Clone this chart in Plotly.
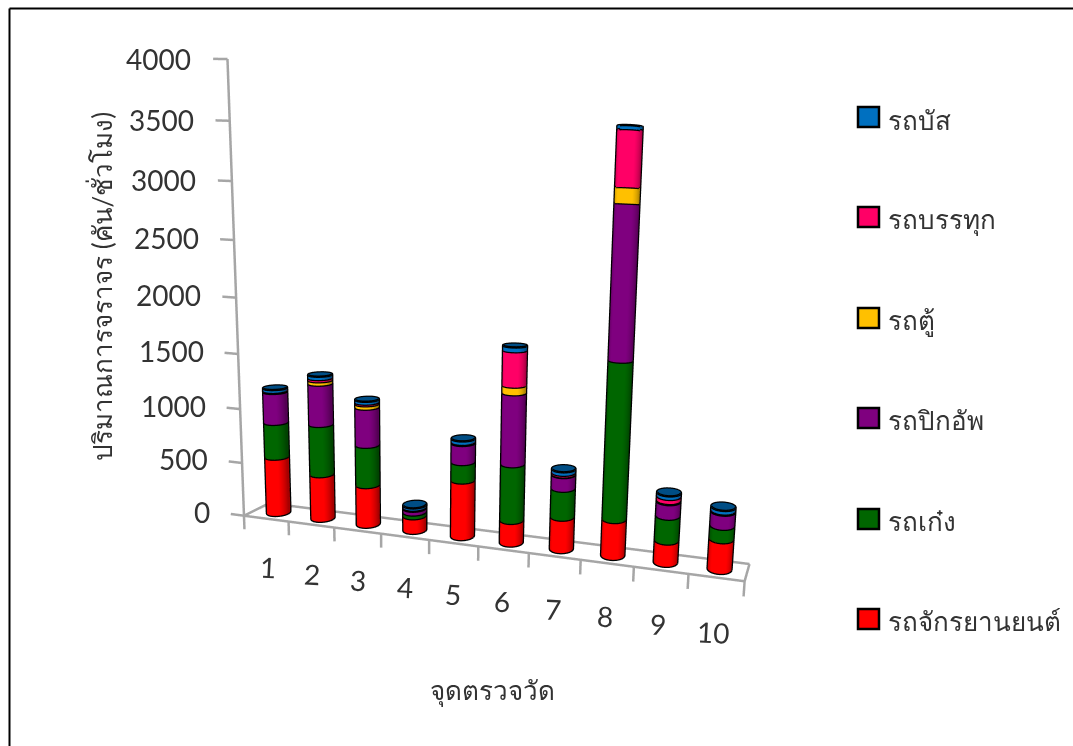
import numpy as np
import plotly.graph_objects as go

W, H = 1073, 746

# Vehicles per hour at each survey point, stacked bottom to top
points = ["1", "2", "3", "4", "5", "6", "7", "8", "9", "10"]
moto = [535, 420, 370, 135, 515, 205, 290, 325, 195, 265]
sedan = [325, 465, 370, 35, 165, 505, 255, 1360, 215, 115]
pickup = [285, 375, 345, 35, 170, 625, 120, 1265, 125, 120]
van = [5, 30, 30, 5, 5, 65, 5, 125, 10, 5]
truck = [5, 20, 15, 5, 5, 300, 15, 440, 35, 5]
bus = [25, 30, 25, 20, 30, 40, 30, 30, 30, 30]
z_ticks = [0, 500, 1000, 1500, 2000, 2500, 3000, 3500, 4000]

series = [("รถจักรยานยนต์", moto, "#FF0000"), ("รถเก๋ง", sedan, "#006600"), ("รถปิกอัพ", pickup, "#7F007F"),
          ("รถตู้", van, "#FFC000"), ("รถบรรทุก", truck, "#FF0066"), ("รถบัส", bus, "#0070C0")]
legend_box_y = [619, 519, 418, 318, 217, 117]
legend_text_y = [621, 521, 420, 320, 220, 120]

# Scene ranges and camera
RX, RY, RZ = (-1.0, 11.0), (-1.0, 2.0), (-500.0, 4500.0)
mid = np.array([sum(RX), sum(RY), sum(RZ)]) / 2
rng = np.array([RX[1]-RX[0], RY[1]-RY[0], RZ[1]-RZ[0]])
eye = np.array([0.2078, -0.5158, 0.0656])
cen = np.array([-0.1320, 0.9978, -0.2145])
asp = np.array([0.4007, 0.0826, 0.3642])
up = (-0.3180, 1.1796, 1.0)
dom_x = [0.1817, 1.0]

# Cylinder cross-section in axis units
RAD_X, RAD_Y = 0.215, 0.28
N = 48
T = np.linspace(0, 2*np.pi, N, endpoint=False)

fig = go.Figure()
LIGHT = dict(ambient=0.65, diffuse=0.45, specular=0, roughness=1, fresnel=0)
lightpos = dict(x=float(eye[0]*1000), y=float(eye[1]*1000), z=float(eye[2]*1000))

base = np.zeros(10)
ol_x, ol_y, ol_z = [], [], []
for name, vals, col in series:
    X, Y, Z, I, J, K = [], [], [], [], [], []
    for b in range(10):
        cx, cy = b+0.5, 0.5
        z0, z1 = base[b], base[b]+vals[b]
        o = len(X)
        X += list(cx+RAD_X*np.cos(T))*2
        Y += list(cy+RAD_Y*np.sin(T))*2
        Z += [z0]*N+[z1]*N
        for i in range(N):
            j = (i+1) % N
            I += [o+i, o+j]; J += [o+j, o+N+j]; K += [o+N+i, o+N+i]
        # Outline rings at both ends of the segment
        for zz in (z0, z1):
            ol_x += list(cx+RAD_X*np.cos(np.append(T, 0)))+[None]
            ol_y += list(cy+RAD_Y*np.sin(np.append(T, 0)))+[None]
            ol_z += [zz]*(N+1)+[None]
        # Vertical silhouette edges, taken where the surface turns away from the eye
        a = asp/rng
        v = (np.array([cx, cy, 0])-mid)/rng*asp-eye
        t = np.arctan2(-v[0]/(a[0]*RAD_X), v[1]/(a[1]*RAD_Y))
        for tt in (t, t+np.pi):
            ol_x += [cx+RAD_X*np.cos(tt)]*2+[None]
            ol_y += [cy+RAD_Y*np.sin(tt)]*2+[None]
            ol_z += [z0, z1, None]
        # Top cap on the last segment of the stack
        if name == "รถบัส":
            o2 = len(X)
            X += list(cx+RAD_X*np.cos(T))+[cx]
            Y += list(cy+RAD_Y*np.sin(T))+[cy]
            Z += [z1]*(N+1)
            for i in range(N):
                I.append(o2+i); J.append(o2+(i+1) % N); K.append(o2+N)
    base = base+np.array(vals)
    fig.add_trace(go.Mesh3d(x=X, y=Y, z=Z, i=I, j=J, k=K, color=col, name=name, flatshading=False,
                            lighting=LIGHT, lightposition=lightpos, hoverinfo="name"))

fig.add_trace(go.Scatter3d(x=ol_x, y=ol_y, z=ol_z, mode="lines", line=dict(color="black", width=5),
                           hoverinfo="skip", showlegend=False))

# Floor, value axis and tick marks
ax_x, ax_y, ax_z = [], [], []
def seg(a, b):
    ax_x.extend([a[0], b[0], None]); ax_y.extend([a[1], b[1], None]); ax_z.extend([a[2], b[2], None])
seg((0, 0, 0), (10, 0, 0)); seg((10, 0, 0), (10, 1, 0)); seg((10, 1, 0), (0, 1, 0)); seg((0, 1, 0), (0, 0, 0))
seg((0, 0, 0), (0, 0, 4000))
for z in z_ticks:
    seg((-0.3, 0, z), (0, 0, z))
for i in range(11):
    seg((i, 0, 0), (i, 0, -130))
fig.add_trace(go.Scatter3d(x=ax_x, y=ax_y, z=ax_z, mode="lines", line=dict(color="#A6A6A6", width=5),
                           hoverinfo="skip", showlegend=False))

TEXT = "#333333"
TICKFONT = dict(family="Lato, sans-serif", size=28, color=TEXT)
ann3d = [dict(x=-0.72, y=0, z=z, text=str(z), showarrow=False, xanchor="right", font=TICKFONT) for z in z_ticks]
ann3d += [dict(x=i+0.5, y=0, z=-470, text=t, showarrow=False, textangle=3, font=TICKFONT) for i, t in enumerate(points)]

axis_off = dict(visible=False, showspikes=False)
fig.update_layout(
    width=W, height=H, margin=dict(l=0, r=0, t=0, b=0), paper_bgcolor="white", showlegend=False,
    scene=dict(
        domain=dict(x=dom_x, y=[0, 1]),
        xaxis=dict(range=list(RX), **axis_off), yaxis=dict(range=list(RY), **axis_off), zaxis=dict(range=list(RZ), **axis_off),
        aspectmode="manual", aspectratio=dict(x=float(asp[0]), y=float(asp[1]), z=float(asp[2])),
        camera=dict(eye=dict(x=float(eye[0]), y=float(eye[1]), z=float(eye[2])),
                    center=dict(x=float(cen[0]), y=float(cen[1]), z=float(cen[2])),
                    up=dict(x=up[0], y=up[1], z=up[2]), projection=dict(type="perspective")),
        annotations=ann3d),
)

def px(x): return x/W
def py(y): return 1-y/H

# Chart frame (top and left edges) and legend
shapes = [dict(type="line", xref="paper", yref="paper", x0=px(9.5), x1=px(W), y0=py(8.5), y1=py(8.5), line=dict(color="black", width=2)),
          dict(type="line", xref="paper", yref="paper", x0=px(9.5), x1=px(9.5), y0=py(8.5), y1=py(H), line=dict(color="black", width=2))]
ann = []
LEGFONT = dict(family="Lato, sans-serif", size=26, color=TEXT)
for (name, vals, col), y, ty in zip(series, legend_box_y, legend_text_y):
    shapes.append(dict(type="rect", xref="paper", yref="paper", x0=px(858), x1=px(879), y0=py(y-10), y1=py(y+10),
                       fillcolor=col, line=dict(color="black", width=2.5)))
    ann.append(dict(xref="paper", yref="paper", x=px(886), y=py(ty), xanchor="left", yanchor="middle", text=name, showarrow=False, font=LEGFONT))
ann.append(dict(xref="paper", yref="paper", x=px(492), y=py(690), xanchor="center", yanchor="middle", text="จุดตรวจวัด", showarrow=False, font=LEGFONT))
ann.append(dict(xref="paper", yref="paper", x=px(102), y=py(287), xanchor="center", yanchor="middle", text="ปริมาณการจราจร (คัน/ชั่วโมง)", textangle=-90, showarrow=False, font=LEGFONT))
fig.update_layout(shapes=shapes, annotations=ann)
fig.write_html("out.html")
